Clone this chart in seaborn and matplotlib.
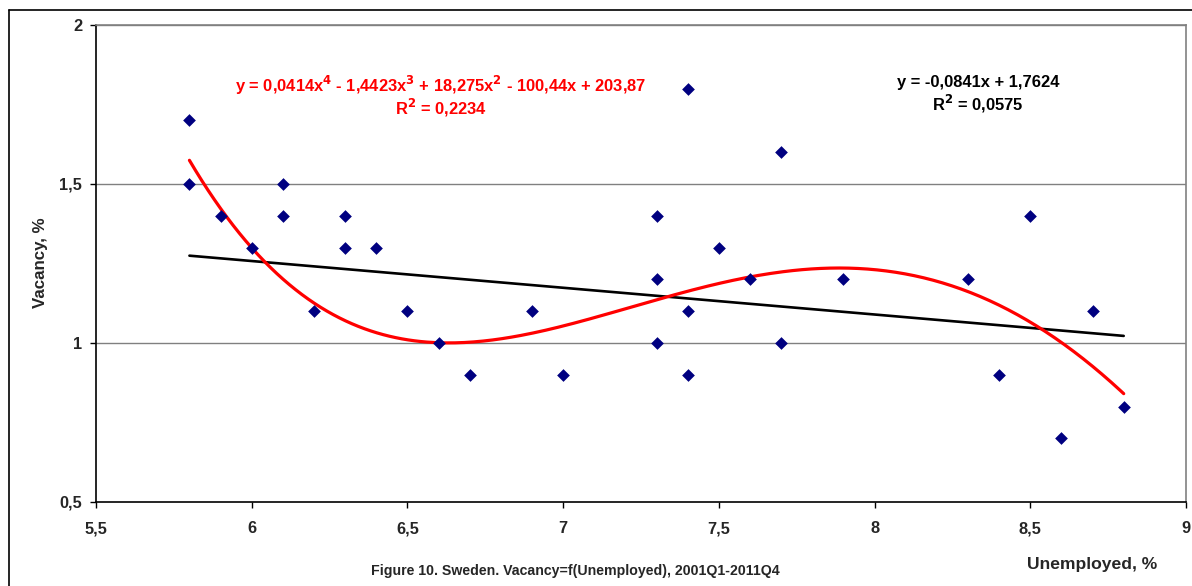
import matplotlib
matplotlib.use("Agg")
import matplotlib.pyplot as plt
from matplotlib.lines import Line2D
from matplotlib.ticker import FuncFormatter
import numpy as np
import pandas as pd
import seaborn as sns

# Unemployment rate (%) and vacancy rate (%) by quarter
unemployed = [5.8, 5.8, 5.9, 6.0, 6.1, 6.1, 6.2, 6.3, 6.3, 6.4, 6.5, 6.6, 6.7,
              6.9, 7.0, 7.3, 7.3, 7.3, 7.4, 7.4, 7.4, 7.5, 7.6, 7.7, 7.7,
              7.9, 8.3, 8.4, 8.5, 8.6, 8.7, 8.8]
vacancy = [1.7, 1.5, 1.4, 1.3, 1.5, 1.4, 1.1, 1.4, 1.3, 1.3, 1.1, 1.0, 0.9,
           1.1, 0.9, 1.4, 1.2, 1.0, 1.8, 1.1, 0.9, 1.3, 1.2, 1.6, 1.0,
           1.2, 1.2, 0.9, 1.4, 0.7, 1.1, 0.8]

# trend-line coefficients, highest power first
poly_coef = [0.04144, -1.4423, 18.275, -100.44, 203.87]
poly_r2 = 0.2234
lin_coef = [-0.0841, 1.7624]
lin_r2 = 0.0575

x_ticks = [5.5, 6, 6.5, 7, 7.5, 8, 8.5, 9]
y_ticks = [0.5, 1, 1.5, 2]


def num(v):
    """Spreadsheet-style number: five significant digits, at most four decimals."""
    whole = len(str(int(abs(v))))
    dec = max(0, min(4, 5 - whole))
    return f"{abs(v):.{dec}f}".replace(".", ",")


def equation(coefs):
    deg = len(coefs) - 1
    parts = []
    for i, c in enumerate(coefs):
        p = deg - i
        term = num(c)
        if p >= 2:
            term += f"x$^{p}$"
        elif p == 1:
            term += "x"
        if i == 0:
            parts.append(("-" if c < 0 else "") + term)
        else:
            parts.append(("- " if c < 0 else "+ ") + term)
    return "y = " + " ".join(parts)


df = pd.DataFrame({"Unemployed": unemployed, "Vacancy": vacancy})
xs = np.linspace(min(unemployed), max(unemployed), 300)
trend = pd.DataFrame({
    "x": xs,
    "poly": np.polyval(poly_coef, xs),
    "lin": np.polyval(lin_coef, xs),
})

sns.set_theme(style="white")
plt.rcParams["font.family"] = ["Liberation Sans", "DejaVu Sans"]
plt.rcParams["font.weight"] = "bold"
plt.rcParams["mathtext.default"] = "bf"

fig = plt.figure(figsize=(11.92, 5.86), dpi=100)
ax = fig.add_axes([96 / 1192, 1 - 502 / 586, 1090 / 1192, 477 / 586])

# horizontal gridlines
for yv in y_ticks[1:]:
    ax.axhline(yv, color="#808080", lw=1.0, zorder=1)

sns.lineplot(data=trend, x="x", y="lin", color="black", lw=1.9, ax=ax, zorder=3)
sns.lineplot(data=trend, x="x", y="poly", color="#ff0000", lw=2.3, ax=ax, zorder=4)

sns.scatterplot(data=df, x="Unemployed", y="Vacancy", marker="D", s=42,
                color="#000080", edgecolor="#000080", linewidth=0, ax=ax, zorder=5)

ax.set_xlim(5.5, 9)
ax.set_ylim(0.5, 2)
ax.set_xticks(x_ticks)
ax.set_yticks(y_ticks)
fmt = FuncFormatter(lambda v, p: f"{v:g}".replace(".", ","))
ax.xaxis.set_major_formatter(fmt)
ax.yaxis.set_major_formatter(fmt)
ax.tick_params(axis="both", which="major", direction="out", length=4, width=1,
               color="black", labelsize=11.8)
ax.tick_params(axis="x", pad=10)
ax.tick_params(axis="y", pad=6)
ax.tick_params(bottom=True, left=True)
for lab in ax.get_xticklabels() + ax.get_yticklabels():
    lab.set_fontweight("bold")

ax.set_xlabel("")
ax.set_ylabel("")
fig.text(40 / 1192, 1 - 263 / 586, "Vacancy, %", rotation=90, fontsize=12.2,
         fontweight="bold", ha="center", va="center")

for side in ["left", "bottom"]:
    ax.spines[side].set_color("black")
    ax.spines[side].set_linewidth(1.2)
for side in ["top", "right"]:
    ax.spines[side].set_color("#808080")
    ax.spines[side].set_linewidth(1.2)

# trend-line equations
fig.text(441 / 1192, 1 - 85 / 586, equation(poly_coef), color="#ff0000",
         fontsize=11.9, fontweight="bold", ha="center", va="center")
fig.text(441 / 1192, 1 - 108 / 586, f"R$^2$ = {num(poly_r2)}", color="#ff0000",
         fontsize=11.9, fontweight="bold", ha="center", va="center")
fig.text(978 / 1192, 1 - 82 / 586, equation(lin_coef), color="black",
         fontsize=11.9, fontweight="bold", ha="center", va="center")
fig.text(978 / 1192, 1 - 104 / 586, f"R$^2$ = {num(lin_r2)}", color="black",
         fontsize=11.9, fontweight="bold", ha="center", va="center")

fig.text(1092 / 1192, 1 - 565 / 586, "Unemployed, %", fontsize=12.6,
         fontweight="bold", ha="center", va="center")
fig.text(575 / 1192, 1 - 571 / 586,
         "Figure 10. Sweden. Vacancy=f(Unemployed), 2001Q1-2011Q4",
         fontsize=10.2, fontweight="bold", ha="center", va="center")

# outer frame
fig.add_artist(Line2D([9 / 1192, 1.0], [1 - 10 / 586, 1 - 10 / 586],
                      transform=fig.transFigure, color="black", lw=1.2))
fig.add_artist(Line2D([9 / 1192, 9 / 1192], [1 - 10 / 586, 0.0],
                      transform=fig.transFigure, color="black", lw=1.2))

fig.savefig("out.png", dpi=100)
